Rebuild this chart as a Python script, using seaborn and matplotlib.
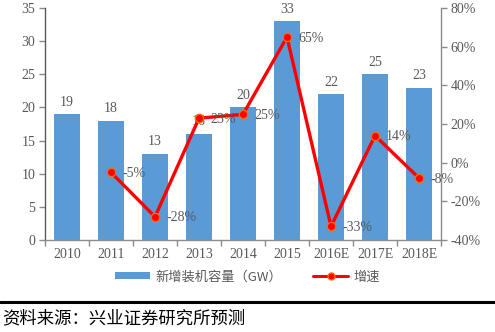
import numpy as np
import pandas as pd
import matplotlib
matplotlib.use("Agg")
import matplotlib.pyplot as plt
from matplotlib.lines import Line2D
from matplotlib.patches import Patch
import seaborn as sns

years = ["2010", "2011", "2012", "2013", "2014", "2015", "2016E", "2017E", "2018E"]
capacity = [19, 18, 13, 16, 20, 33, 22, 25, 23]
growth = [np.nan, -5, -28, 23, 25, 65, -33, 14, -8]

bar_label_name = "新增装机容量（GW）"
line_label_name = "增速"
source_note = "资料来源：兴业证券研究所预测"

sns.set_theme(style="white")
plt.rcParams["font.family"] = ["Liberation Serif", "Noto Sans CJK SC", "DejaVu Sans"]

BAR_C = "#5B9BD5"
LINE_C = "#FF0000"
EDGE_C = "#FF6A00"
TXT_C = "#595959"
AX_C = "#8C8C8C"

fig = plt.figure(figsize=(4.95, 3.32), dpi=100)
ax = fig.add_axes([45 / 495, 1 - 240 / 332, (441 - 45) / 495, (240 - 8) / 332])

df = pd.DataFrame({"year": years, "capacity": capacity, "growth": growth})
sns.barplot(data=df, x="year", y="capacity", color=BAR_C, width=0.57,
            saturation=1, ax=ax)
for p in ax.patches:
    p.set_edgecolor("none")
ax.bar_label(ax.containers[0], labels=[str(v) for v in capacity], padding=4,
             fontsize=10, color=TXT_C)

ax.set_ylim(0, 35)
ax.set_yticks(range(0, 36, 5))
ax.set_xlim(-0.5, len(years) - 0.5)
ax.set_xlabel("")
ax.set_ylabel("")

ax2 = ax.twinx()
xpos = np.arange(len(years))
sns.lineplot(x=xpos, y=growth, ax=ax2, color=LINE_C, linewidth=2.4,
             marker="o", markersize=6, markerfacecolor=LINE_C,
             markeredgecolor=EDGE_C, markeredgewidth=1.0)
ax2.set_ylim(-40, 80)
ax2.set_yticks(range(-40, 81, 20))
ax2.set_yticklabels([f"{v}%" for v in range(-40, 81, 20)])
ax2.set_xlim(-0.5, len(years) - 0.5)

for x, g in zip(xpos, growth):
    if np.isnan(g):
        continue
    ax2.annotate(f"{int(g)}%", (x, g), xytext=(11, -1), textcoords="offset pixels",
                 ha="left", va="center", fontsize=10, color=TXT_C)

# spines and ticks
for a in (ax, ax2):
    for s in a.spines.values():
        s.set_visible(False)
ax.spines["left"].set_visible(True)
ax.spines["bottom"].set_visible(True)
ax2.spines["right"].set_visible(True)
for s in (ax.spines["left"], ax.spines["bottom"], ax2.spines["right"]):
    s.set_color(AX_C)
    s.set_linewidth(1.0)
ax.spines["left"].set_color("#595959")

ax.tick_params(axis="y", direction="out", length=4, width=1, color=AX_C,
               labelsize=10, labelcolor=TXT_C, pad=3, left=True)
ax2.tick_params(axis="y", direction="out", length=4, width=1, color=AX_C,
                labelsize=10, labelcolor=TXT_C, pad=3, right=True)
ax.set_xticks(xpos)
ax.set_xticks(np.arange(-0.5, len(years), 1.0), minor=True)
ax.tick_params(axis="x", which="major", length=0, labelsize=10,
               labelcolor=TXT_C, pad=6)
ax.tick_params(axis="x", which="minor", direction="out", length=4, width=1,
               color=AX_C, bottom=True)
ax2.grid(False)
ax.grid(False)

handles = [
    Patch(facecolor=BAR_C, edgecolor="none", label=bar_label_name),
    Line2D([0], [0], color=LINE_C, linewidth=2.2, marker="o", markersize=5,
           markerfacecolor=LINE_C, markeredgecolor=EDGE_C, label=line_label_name),
]
fig.legend(handles=handles, loc="center", bbox_to_anchor=(0.5, 1 - 277 / 332),
           ncol=2, frameon=False, labelcolor=TXT_C,
           handlelength=2.6, handleheight=0.4, columnspacing=2.4,
           handletextpad=0.4,
           prop={"family": ["Noto Sans CJK SC", "DejaVu Sans"], "size": 9.5})

fig.add_artist(Line2D([0, 1], [1 - 302 / 332] * 2, transform=fig.transFigure,
                      color="black", linewidth=2.2))
fig.text(2 / 495, 1 - 318 / 332, source_note, fontsize=12.5, color="black",
         ha="left", va="center", family=["Noto Sans CJK SC", "DejaVu Sans"])

fig.savefig("out.png", dpi=100)
